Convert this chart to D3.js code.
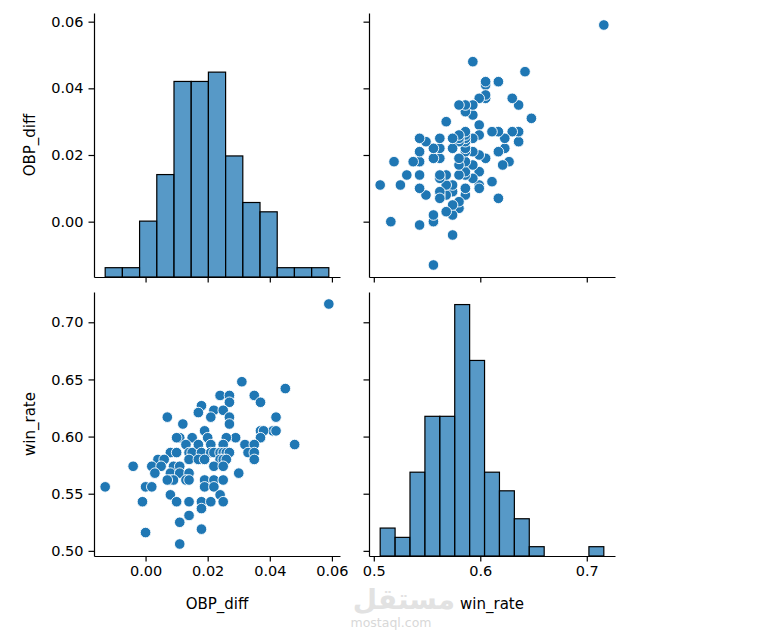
<!DOCTYPE html>
<html>
<head>
<meta charset="utf-8">
<script src="https://cdn.jsdelivr.net/npm/d3@7"></script>
<style>
  body { margin: 0; background: #fff; }
  text { font-family: "DejaVu Sans", sans-serif; }
</style>
</head>
<body>
<div id="pairplot"></div>
<script>
// pair plot of OBP_diff vs win_rate
const vars = ["OBP_diff", "win_rate"];

// one point per team-season
const obpDiff = [
  0.059, 0.031, 0.045, 0.024, 0.027, 0.035, 0.027, 0.037, 0.018, 0.017,
  0.022, 0.025, 0.021, 0.007, 0.027, 0.027, 0.012, 0.019, 0.042, 0.041,
  0.042, 0.037, 0.038, 0.037, 0.048, 0.032, 0.035, 0.033, 0.035, 0.035,
  0.029, 0.026, 0.020, 0.015, 0.011, 0.010, 0.013, 0.021, 0.025, 0.008,
  0.010, 0.014, 0.015, 0.017, 0.018, 0.021, 0.022, 0.024, 0.025, 0.026,
  0.027, 0.014, 0.017, 0.019, 0.024, 0.025, 0.026, 0.004, 0.006, -0.004,
  0.002, 0.005, 0.009, 0.011, 0.022, 0.025, 0.003, 0.008, 0.011, 0.014,
  0.030, 0.008, 0.009, 0.013, 0.014, 0.019, 0.022, 0.025, -0.013, 0.000,
  0.002, 0.019, 0.022, 0.008, 0.024, -0.001, 0.010, 0.014, 0.018, 0.021,
  0.025, 0.018, 0.014, 0.011, 0.018, 0.000, 0.011, 0.007
];
const winRate = [
  0.716, 0.648, 0.642, 0.636, 0.636, 0.636, 0.630, 0.630, 0.627, 0.621,
  0.623, 0.623, 0.617, 0.617, 0.617, 0.611, 0.611, 0.605, 0.617, 0.605,
  0.605, 0.605, 0.605, 0.599, 0.593, 0.593, 0.593, 0.586, 0.586, 0.580,
  0.599, 0.599, 0.599, 0.599, 0.599, 0.599, 0.593, 0.593, 0.593, 0.586,
  0.586, 0.586, 0.586, 0.593, 0.586, 0.586, 0.586, 0.586, 0.586, 0.586,
  0.586, 0.580, 0.580, 0.580, 0.580, 0.580, 0.580, 0.580, 0.580, 0.574,
  0.574, 0.574, 0.574, 0.574, 0.574, 0.574, 0.568, 0.568, 0.568, 0.568,
  0.568, 0.562, 0.562, 0.562, 0.562, 0.562, 0.562, 0.562, 0.556, 0.556,
  0.556, 0.556, 0.556, 0.549, 0.549, 0.543, 0.543, 0.543, 0.543, 0.543,
  0.543, 0.537, 0.531, 0.525, 0.519, 0.516, 0.506, 0.562
];

// histogram counts
const obpCounts = [1, 1, 6, 11, 21, 21, 22, 13, 8, 7, 1, 1, 1];
const winCounts = [3, 2, 9, 15, 15, 27, 21, 9, 7, 4, 1, 0, 0, 0, 1];

// tick values
const obpTicks = [0.00, 0.02, 0.04, 0.06];
const winXTicks = [0.5, 0.6, 0.7];
const winYTicks = [0.50, 0.55, 0.60, 0.65, 0.70];

const width = 782, height = 638;
const colX = [[94, 340], [369, 615]];
const rowY = [[277, 13], [556, 292]];

const svg = d3.select("#pairplot")
    .append("svg")
    .attr("width", width)
    .attr("height", height);

// matplotlib style 5% margins
function padded(values) {
    const [lo, hi] = d3.extent(values);
    const r = hi - lo;
    return [lo - 0.05 * r, hi + 0.05 * r];
}

const columns = [obpDiff, winRate];
const xScales = columns.map((v, i) => d3.scaleLinear().domain(padded(v)).range(colX[i]));
const yScales = columns.map((v, i) => d3.scaleLinear().domain(padded(v)).range(rowY[i]));

// diagonal panels share the count axis
const countMax = d3.max(obpCounts.concat(winCounts));
const countScales = rowY.map(r => d3.scaleLinear().domain([0, countMax * 1.05]).range(r));

const xTickVals = [obpTicks, winXTicks];
const yTickVals = [obpTicks, winYTicks];
const xFormats = [d3.format(".2f"), d3.format(".1f")];
const yFormats = [d3.format(".2f"), d3.format(".2f")];
const histCounts = [obpCounts, winCounts];

const blue = "#1f77b4";

function styleAxis(a, showLabels) {
    a.select(".domain").attr("stroke", "#000").attr("stroke-width", 1.2);
    a.selectAll(".tick line").attr("stroke", "#000").attr("stroke-width", 1.2);
    if (!showLabels) {
        a.selectAll(".tick text").remove();
        return;
    }
    a.selectAll(".tick text")
        .attr("fill", "#000")
        .style("font-family", "DejaVu Sans")
        .style("font-size", "14.5px");
}

for (let row = 0; row < 2; row++) {
    for (let col = 0; col < 2; col++) {
        const g = svg.append("g");
        const x = xScales[col];
        const y = yScales[row];

        if (row === col) {
            // histogram
            const counts = histCounts[col];
            const [lo, hi] = d3.extent(columns[col]);
            const binW = (hi - lo) / counts.length;
            const cy = countScales[row];
            g.selectAll("rect")
                .data(counts.map((c, i) => ({x0: lo + i * binW, x1: lo + (i + 1) * binW, c: c})).filter(d => d.c > 0))
                .enter()
                .append("rect")
                .attr("x", d => x(d.x0))
                .attr("width", d => x(d.x1) - x(d.x0))
                .attr("y", d => cy(d.c))
                .attr("height", d => cy(0) - cy(d.c))
                .attr("fill", blue)
                .attr("fill-opacity", 0.75)
                .attr("stroke", "#000")
                .attr("stroke-width", 1.2);
        } else {
            // scatter
            const xs = columns[col], ys = columns[row];
            g.selectAll("circle")
                .data(xs.map((v, i) => [v, ys[i]]))
                .enter()
                .append("circle")
                .attr("cx", d => x(d[0]))
                .attr("cy", d => y(d[1]))
                .attr("r", 5.3)
                .attr("fill", blue)
                .attr("stroke", "#fff")
                .attr("stroke-width", 0.9);
        }

        // axes
        const xAxis = d3.axisBottom(x)
            .tickValues(xTickVals[col])
            .tickSize(5.5)
            .tickSizeOuter(0)
            .tickPadding(4)
            .tickFormat(xFormats[col]);
        const yAxis = d3.axisLeft(y)
            .tickValues(yTickVals[row])
            .tickSize(5.5)
            .tickSizeOuter(0)
            .tickPadding(5)
            .tickFormat(yFormats[row]);

        const ax = g.append("g")
            .attr("transform", `translate(0,${rowY[row][0]})`)
            .call(xAxis);
        const ay = g.append("g")
            .attr("transform", `translate(${colX[col][0]},0)`)
            .call(yAxis);

        styleAxis(ax, row === 1);
        styleAxis(ay, col === 0);
    }
}

// axis titles
vars.forEach((name, i) => {
    svg.append("text")
        .attr("x", (colX[i][0] + colX[i][1]) / 2)
        .attr("y", 609)
        .attr("text-anchor", "middle")
        .style("font-size", "15px")
        .text(name);

    const cy = (rowY[i][0] + rowY[i][1]) / 2;
    svg.append("text")
        .attr("transform", `translate(35,${cy}) rotate(-90)`)
        .attr("text-anchor", "middle")
        .style("font-size", "15px")
        .text(name);
});

// watermark
svg.append("text")
    .attr("x", 404)
    .attr("y", 609)
    .attr("text-anchor", "middle")
    .attr("direction", "rtl")
    .style("font-size", "28px")
    .style("font-weight", "bold")
    .attr("fill", "#e2e2e2")
    .text("مستقل");
svg.append("text")
    .attr("x", 391)
    .attr("y", 627)
    .attr("text-anchor", "middle")
    .style("font-size", "12.5px")
    .attr("fill", "#d8d8d8")
    .text("mostaql.com");
</script>
</body>
</html>
